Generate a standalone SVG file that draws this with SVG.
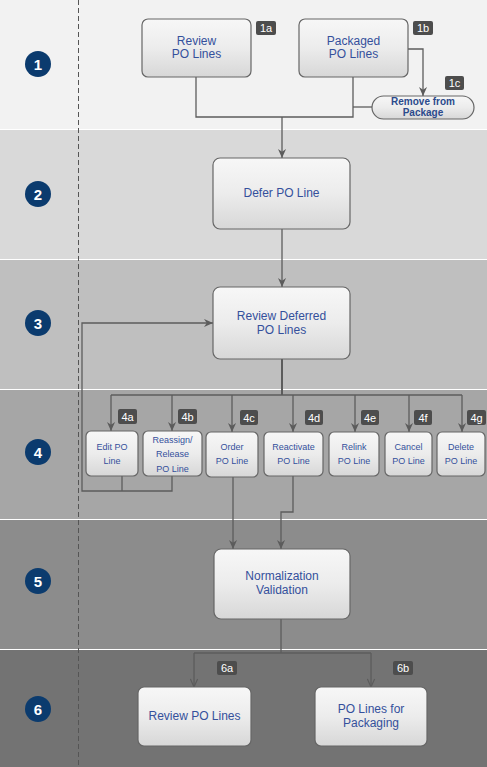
<svg xmlns="http://www.w3.org/2000/svg" width="487" height="767" viewBox="0 0 487 767">
<style>
.band{stroke:none}
.sep{stroke:#ffffff;stroke-width:1}
.box{fill:url(#g);stroke:#666;stroke-width:1.2}
.t{font-family:"Liberation Sans",Arial,sans-serif;font-size:12px;fill:#34509c;text-anchor:middle}
.ts{font-family:"Liberation Sans",Arial,sans-serif;font-size:9px;fill:#34509c;text-anchor:middle}
.tb{font-family:"Liberation Sans",Arial,sans-serif;font-size:10px;font-weight:bold;fill:#2b4a8c;text-anchor:middle}
.badge{fill:#4d4d4d}
.bt{font-family:"Liberation Sans",Arial,sans-serif;font-size:11px;fill:#ffffff;text-anchor:middle}
.num{fill:#0b3b6e}
.nt{font-family:"Liberation Sans",Arial,sans-serif;font-size:15px;font-weight:bold;fill:#ffffff;text-anchor:middle}
.c{fill:none;stroke:#5c5c5c;stroke-width:1.3}
.a{marker-end:url(#arr)}
.ao{marker-end:url(#arro)}
</style>
<defs>
<linearGradient id="g" x1="0" y1="0" x2="0" y2="1">
<stop offset="0" stop-color="#f7f7f7"/>
<stop offset="0.5" stop-color="#ececec"/>
<stop offset="1" stop-color="#d7d7d7"/>
</linearGradient>
<marker id="arr" viewBox="0 0 10 10" refX="10" refY="5" markerWidth="9" markerHeight="9" markerUnits="userSpaceOnUse" orient="auto">
<path d="M0,0.5 L10,5 L0,9.5 L3,5 z" fill="#5c5c5c"/>
</marker>
<marker id="arro" viewBox="0 0 10 10" refX="10" refY="5" markerWidth="9" markerHeight="9" markerUnits="userSpaceOnUse" orient="auto">
<path d="M1,1 L10,5 L1,9" fill="none" stroke="#5c5c5c" stroke-width="1.3"/>
</marker>
</defs>

<g id="bands">
<rect class="band" x="0" y="0" width="487" height="129" fill="#f2f2f2"/>
<rect class="band" x="0" y="129" width="487" height="130" fill="#d9d9d9"/>
<rect class="band" x="0" y="259" width="487" height="130" fill="#bfbfbf"/>
<rect class="band" x="0" y="389" width="487" height="130" fill="#a6a6a6"/>
<rect class="band" x="0" y="519" width="487" height="130" fill="#8c8c8c"/>
<rect class="band" x="0" y="649" width="487" height="118" fill="#737373"/>
<line class="sep" x1="0" y1="129.5" x2="487" y2="129.5"/>
<line class="sep" x1="0" y1="259.5" x2="487" y2="259.5"/>
<line class="sep" x1="0" y1="389.5" x2="487" y2="389.5"/>
<line class="sep" x1="0" y1="519.5" x2="487" y2="519.5"/>
<line class="sep" x1="0" y1="649.5" x2="487" y2="649.5"/>
<line x1="78.5" y1="0" x2="78.5" y2="767" stroke="#555" stroke-width="1" stroke-dasharray="5,3"/>
</g>

<g id="steps">
<circle class="num" cx="38" cy="64" r="13"/><text class="nt" x="38" y="69.5">1</text>
<circle class="num" cx="38" cy="194" r="13"/><text class="nt" x="38" y="199.5">2</text>
<circle class="num" cx="38" cy="323" r="13"/><text class="nt" x="38" y="328.5">3</text>
<circle class="num" cx="38" cy="452" r="13"/><text class="nt" x="38" y="457.5">4</text>
<circle class="num" cx="38" cy="581" r="13"/><text class="nt" x="38" y="586.5">5</text>
<circle class="num" cx="38" cy="709" r="13"/><text class="nt" x="38" y="714.5">6</text>
</g>

<g id="connectors">
<path class="c" d="M196,77 V117 H353 V77"/>
<path class="c" d="M353,107 H372"/>
<path class="c a" d="M282,117 V158"/>
<path class="c a" d="M408,49 H423 V96"/>
<path class="c a" d="M282,229 V287"/>
<path class="c" style="stroke-width:2" d="M282,359 V395"/>
<path class="c" d="M111,395 H462"/>
<path class="c a" d="M111,395 V431"/>
<path class="c a" d="M172,395 V431"/>
<path class="c a" d="M232,395 V432"/>
<path class="c a" d="M293,395 V432"/>
<path class="c a" d="M355,395 V432"/>
<path class="c a" d="M409,395 V432"/>
<path class="c a" d="M462,395 V432"/>
<path class="c" d="M122,476 V491"/>
<path class="c a" d="M172,476 V491 H82 V323 H213"/>
<path class="c a" d="M233,476 V549"/>
<path class="c a" d="M293,476 V512 H281 V549"/>
<path class="c" d="M281,619 V653"/>
<path class="c" d="M194,653 H371"/>
<path class="c ao" d="M194,653 V687"/>
<path class="c ao" d="M371,653 V687"/>
</g>

<g id="n1a">
<rect class="box" x="142" y="19" width="109" height="58" rx="6"/>
<text class="t" x="196.5" y="45">Review</text>
<text class="t" x="196.5" y="58">PO Lines</text>
<rect class="badge" x="256" y="21" width="20" height="14" rx="2"/><text class="bt" x="266" y="32">1a</text>
</g>
<g id="n1b">
<rect class="box" x="299" y="19" width="109" height="58" rx="6"/>
<text class="t" x="353.5" y="45">Packaged</text>
<text class="t" x="353.5" y="58">PO Lines</text>
<rect class="badge" x="413" y="21" width="20" height="14" rx="2"/><text class="bt" x="423" y="32">1b</text>
</g>
<g id="n1c">
<rect class="box" x="372" y="96" width="102" height="23" rx="11.5"/>
<text class="tb" x="423" y="105">Remove from</text>
<text class="tb" x="423" y="116">Package</text>
<rect class="badge" x="445" y="76" width="19" height="14" rx="2"/><text class="bt" x="454.5" y="87">1c</text>
</g>
<g id="n2">
<rect class="box" x="213" y="158" width="137" height="71" rx="7"/>
<text class="t" x="281.5" y="197">Defer PO Line</text>
</g>
<g id="n3">
<rect class="box" x="213" y="287" width="137" height="72" rx="7"/>
<text class="t" x="281.5" y="320">Review Deferred</text>
<text class="t" x="281.5" y="334">PO Lines</text>
</g>
<g id="n4a">
<rect class="box" x="86" y="431" width="52" height="45" rx="5"/>
<text class="ts" x="112" y="450">Edit  PO</text>
<text class="ts" x="112" y="464">Line</text>
<rect class="badge" x="118" y="409" width="19" height="15" rx="2"/><text class="bt" x="127.5" y="420.5">4a</text>
</g>
<g id="n4b">
<rect class="box" x="143" y="431" width="59" height="45" rx="5"/>
<text class="ts" x="172.5" y="443">Reassign/</text>
<text class="ts" x="172.5" y="457">Release</text>
<text class="ts" x="172.5" y="472">PO Line</text>
<rect class="badge" x="178" y="409" width="19" height="15" rx="2"/><text class="bt" x="187.5" y="420.5">4b</text>
</g>
<g id="n4c">
<rect class="box" x="206" y="432" width="52" height="45" rx="5"/>
<text class="ts" x="232" y="450">Order</text>
<text class="ts" x="232" y="464">PO Line</text>
<rect class="badge" x="240" y="410" width="18" height="15" rx="2"/><text class="bt" x="249" y="421.5">4c</text>
</g>
<g id="n4d">
<rect class="box" x="264" y="432" width="59" height="44" rx="5"/>
<text class="ts" x="293.5" y="450">Reactivate</text>
<text class="ts" x="293.5" y="464">PO Line</text>
<rect class="badge" x="305" y="410" width="18" height="15" rx="2"/><text class="bt" x="314" y="421.5">4d</text>
</g>
<g id="n4e">
<rect class="box" x="329" y="432" width="50" height="44" rx="5"/>
<text class="ts" x="354" y="450">Relink</text>
<text class="ts" x="354" y="464">PO Line</text>
<rect class="badge" x="361" y="410" width="18" height="15" rx="2"/><text class="bt" x="370" y="421.5">4e</text>
</g>
<g id="n4f">
<rect class="box" x="385" y="432" width="47" height="44" rx="5"/>
<text class="ts" x="408.5" y="450">Cancel</text>
<text class="ts" x="408.5" y="464">PO Line</text>
<rect class="badge" x="414" y="410" width="18" height="15" rx="2"/><text class="bt" x="423" y="421.5">4f</text>
</g>
<g id="n4g">
<rect class="box" x="437" y="432" width="48" height="44" rx="5"/>
<text class="ts" x="461" y="450">Delete</text>
<text class="ts" x="461" y="464">PO Line</text>
<rect class="badge" x="467" y="410" width="19" height="15" rx="2"/><text class="bt" x="476.5" y="421.5">4g</text>
</g>
<g id="n5">
<rect class="box" x="214" y="549" width="136" height="70" rx="7"/>
<text class="t" x="282" y="580">Normalization</text>
<text class="t" x="282" y="594">Validation</text>
</g>
<g id="n6a">
<rect class="box" x="138" y="687" width="113" height="59" rx="6"/>
<text class="t" x="194.5" y="720">Review PO Lines</text>
<rect class="badge" x="217" y="661" width="20" height="14" rx="2"/><text class="bt" x="227" y="672">6a</text>
</g>
<g id="n6b">
<rect class="box" x="315" y="687" width="112" height="59" rx="6"/>
<text class="t" x="371" y="713">PO Lines for</text>
<text class="t" x="371" y="727">Packaging</text>
<rect class="badge" x="393" y="661" width="20" height="14" rx="2"/><text class="bt" x="403" y="672">6b</text>
</g>
</svg>
